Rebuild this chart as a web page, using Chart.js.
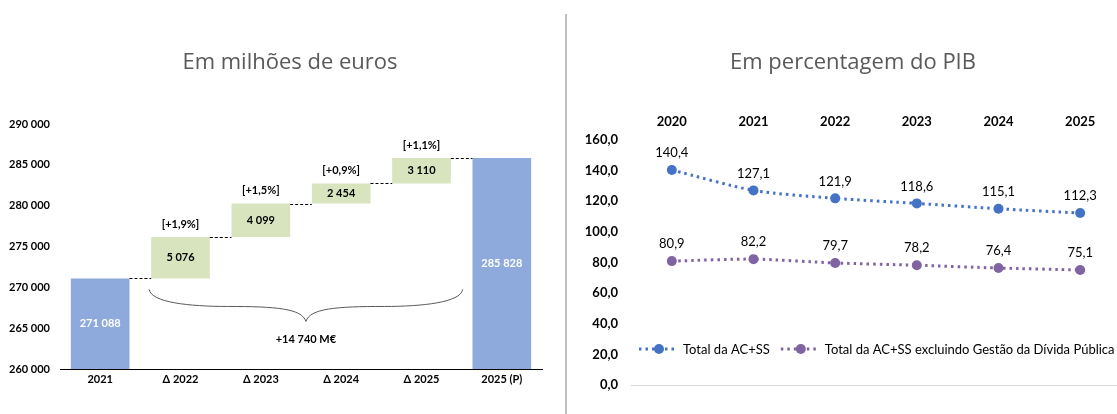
<!DOCTYPE html>
<html>
<head>
<meta charset="utf-8">
<script src="https://cdn.jsdelivr.net/npm/chart.js@4.4.0/dist/chart.umd.min.js"></script>
<style>
  html, body { margin: 0; padding: 0; background: #fff; overflow: hidden; width: 1117px; height: 414px; }
  .panel { position: absolute; top: 0; height: 414px; }
  #left { left: 0; width: 566px; }
  #right { left: 567px; width: 560px; }
  .title { position: absolute; top: 45px; font-family: 'Open Sans', sans-serif; font-size: 22px; color: #595959;
           white-space: nowrap; transform: translateX(-50%); line-height: 30px; }
  #divider { position: absolute; left: 565px; top: 14px; width: 2px; height: 400px; background: #bfbfbf; }
</style>
</head>
<body>
<div class="panel" id="left"><canvas id="waterfall" width="566" height="414"></canvas></div>
<div class="panel" id="right"><canvas id="ratio" width="560" height="414"></canvas></div>
<div id="divider"></div>
<div class="title" style="left:290px">Em milhões de euros</div>
<div class="title" style="left:853px">Em percentagem do PIB</div>

<script>
// ---- left chart: expenditure waterfall (M€)
const categories = ['2021', 'Δ 2022', 'Δ 2023', 'Δ 2024', 'Δ 2025', '2025 (P)'];
const startValue = 271088;
const deltas = [5076, 4099, 2454, 3110];
const endValue = 285828;
const deltaPct = ['[+1,9%]', '[+1,5%]', '[+0,9%]', '[+1,1%]'];
const totalChange = '+14 740 M€';
const leftMin = 260000;
const leftMax = 290000;
const leftStep = 5000;

// ---- right chart: % of GDP
const years = ['2020', '2021', '2022', '2023', '2024', '2025'];
const debtTotal = [140.4, 127.1, 121.9, 118.6, 115.1, 112.3];
const debtExcl = [80.9, 82.2, 79.7, 78.2, 76.4, 75.1];
const seriesNames = ['Total da AC+SS', 'Total da AC+SS excluindo Gestão da Dívida Pública'];
const rightMin = 0;
const rightMax = 160;
const rightStep = 20;

const FONT = 'Lato, sans-serif';
const BLUE_BAR = '#8EA9DB';
const GREEN_BAR = '#D7E4BD';

function fmtThousands(n) {
  return String(n).replace(/\B(?=(\d{3})+(?!\d))/g, ' ');
}
function fmtComma(n) {
  return n.toFixed(1).replace('.', ',');
}

// build floating bars
const floating = [[leftMin, startValue]];
let level = startValue;
deltas.forEach(d => { floating.push([level, level + d]); level += d; });
floating.push([leftMin, endValue]);
const barValues = [startValue, ...deltas, endValue];
const barColors = categories.map((c, i) => (i === 0 || i === categories.length - 1) ? BLUE_BAR : GREEN_BAR);

const waterfallExtras = {
  id: 'waterfallExtras',
  afterDatasetsDraw(chart) {
    const ctx = chart.ctx;
    const bars = chart.getDatasetMeta(0).data;
    const y = chart.scales.y;
    ctx.save();
    // connectors
    ctx.strokeStyle = '#000';
    ctx.lineWidth = 1;
    ctx.setLineDash([3, 2]);
    for (let i = 0; i < bars.length - 1; i++) {
      const py = Math.round(y.getPixelForValue(floating[i][1])) + 0.5;
      ctx.beginPath();
      ctx.moveTo(bars[i].x + bars[i].width / 2, py);
      ctx.lineTo(bars[i + 1].x - bars[i + 1].width / 2, py);
      ctx.stroke();
    }
    ctx.setLineDash([]);
    // values inside bars
    ctx.textAlign = 'center';
    ctx.textBaseline = 'middle';
    ctx.font = 'bold 11px ' + FONT;
    bars.forEach((b, i) => {
      const isTotal = i === 0 || i === bars.length - 1;
      ctx.fillStyle = isTotal ? '#fff' : '#000';
      ctx.fillText(fmtThousands(barValues[i]), b.x, (b.y + b.base) / 2);
    });
    // percentages above delta bars
    ctx.fillStyle = '#000';
    ctx.font = 'bold 11px ' + FONT;
    deltaPct.forEach((t, k) => {
      const b = bars[k + 1];
      ctx.fillText(t, b.x, Math.min(b.y, b.base) - 13);
    });
    // brace under the deltas
    const xs = chart.scales.x;
    const step = xs.getPixelForValue(1) - xs.getPixelForValue(0);
    const xL = bars[1].x - bars[1].width / 2 - 2;
    const xR = xs.getPixelForValue(4) + step / 2 + 1;
    const xM = (xL + xR) / 2;
    const yTop = y.getPixelForValue(startValue) + 11;
    const yMid = yTop + 17;
    const yTip = yTop + 32;
    ctx.strokeStyle = '#595959';
    ctx.lineWidth = 1;
    ctx.beginPath();
    ctx.moveTo(xL, yTop);
    ctx.bezierCurveTo(xL + 2, yMid - 4, xL + 40, yMid, (xL + xM) / 2, yMid);
    ctx.bezierCurveTo(xM - 30, yMid, xM - 4, yMid + 2, xM, yTip);
    ctx.bezierCurveTo(xM + 4, yMid + 2, xM + 30, yMid, (xM + xR) / 2, yMid);
    ctx.bezierCurveTo(xR - 40, yMid, xR - 2, yMid - 4, xR, yTop);
    ctx.stroke();
    ctx.fillStyle = '#000';
    ctx.font = 'bold 11px ' + FONT;
    ctx.fillText(totalChange, xM, yTip + 18);
    ctx.restore();
  }
};

new Chart(document.getElementById('waterfall'), {
  type: 'bar',
  data: {
    labels: categories,
    datasets: [{
      data: floating,
      backgroundColor: barColors,
      borderWidth: 0,
      barPercentage: 0.73,
      categoryPercentage: 1
    }]
  },
  options: {
    responsive: false,
    animation: false,
    layout: { padding: { top: 124, right: 24, bottom: 0, left: 0 } },
    plugins: { legend: { display: false }, tooltip: { enabled: false } },
    scales: {
      x: {
        grid: { display: false, drawTicks: false },
        border: { display: true, color: '#000', width: 1 },
        ticks: { color: '#000', font: { family: FONT, size: 11, weight: 'bold' }, padding: 4 },
        afterFit(s) { s.height = 45; }
      },
      y: {
        min: leftMin, max: leftMax,
        grid: { display: false, drawTicks: false },
        border: { display: false },
        ticks: {
          stepSize: leftStep, color: '#000', padding: 10,
          font: { family: FONT, size: 11, weight: 'bold' },
          callback: v => fmtThousands(v)
        },
        afterFit(s) { s.width = 60; }
      }
    }
  },
  plugins: [waterfallExtras]
});

// ---- right chart
const lineExtras = {
  id: 'lineExtras',
  afterDatasetsDraw(chart) {
    const ctx = chart.ctx;
    ctx.save();
    ctx.fillStyle = '#000';
    ctx.textAlign = 'center';
    ctx.textBaseline = 'middle';
    ctx.font = '13px ' + FONT;
    chart.data.datasets.forEach((ds, di) => {
      chart.getDatasetMeta(di).data.forEach((p, i) => {
        ctx.fillText(fmtComma(ds.data[i]), p.x, p.y - 17);
      });
    });
    // legend inside plot area
    const ca = chart.chartArea;
    let x = ca.left + 8;
    const ly = ca.bottom - 36;
    ctx.textAlign = 'left';
    ctx.font = '13px ' + FONT;
    chart.data.datasets.forEach(ds => {
      ctx.strokeStyle = ds.borderColor;
      ctx.lineWidth = 3;
      ctx.setLineDash([2.5, 4]);
      ctx.beginPath();
      ctx.moveTo(x, ly);
      ctx.lineTo(x + 38, ly);
      ctx.stroke();
      ctx.setLineDash([]);
      ctx.fillStyle = ds.borderColor;
      ctx.beginPath();
      ctx.arc(x + 20, ly, 5, 0, Math.PI * 2);
      ctx.fill();
      ctx.fillStyle = '#000';
      ctx.fillText(ds.label, x + 44, ly + 1);
      x += 44 + ctx.measureText(ds.label).width + 11;
    });
    ctx.restore();
  }
};

function lineSet(label, data, color) {
  return {
    label, data,
    borderColor: color, backgroundColor: color,
    borderWidth: 3, borderDash: [2.5, 4],
    pointRadius: 5, pointBackgroundColor: color, pointBorderWidth: 0,
    tension: 0.25, fill: false
  };
}

new Chart(document.getElementById('ratio'), {
  type: 'line',
  data: {
    labels: years,
    datasets: [
      lineSet(seriesNames[0], debtTotal, '#4472C4'),
      lineSet(seriesNames[1], debtExcl, '#8064A2')
    ]
  },
  options: {
    responsive: false,
    animation: false,
    layout: { padding: { top: 110, right: 6, bottom: 29, left: 0 } },
    plugins: { legend: { display: false }, tooltip: { enabled: false } },
    scales: {
      x: {
        position: 'top',
        offset: true,
        grid: { display: false, drawTicks: false },
        border: { display: false },
        ticks: { color: '#000', font: { family: FONT, size: 13, weight: 'bold' }, padding: 10 },
        afterFit(s) { s.height = 30; }
      },
      y: {
        min: rightMin, max: rightMax,
        grid: { drawTicks: false, color: c => c.tick.value === 0 ? '#d9d9d9' : 'rgba(0,0,0,0)' },
        border: { display: false },
        ticks: {
          stepSize: rightStep, color: '#000', padding: 13,
          font: { family: FONT, size: 13, weight: 'bold' },
          callback: v => fmtComma(v)
        },
        afterFit(s) { s.width = 64; }
      }
    }
  },
  plugins: [lineExtras]
});
</script>
</body>
</html>
